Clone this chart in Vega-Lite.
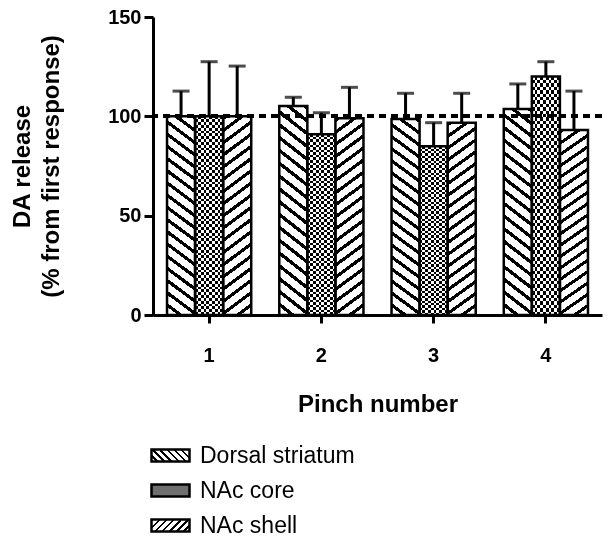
{
  "$schema": "https://vega.github.io/schema/vega-lite/v6.json",
  "width": 449,
  "height": 298,
  "autosize": {"type": "none"},
  "padding": {"left": 153, "top": 17, "right": 10, "bottom": 227},
  "background": "white",
  "config": {
    "font": "Liberation Sans",
    "view": {"stroke": null},
    "axis": {"domainColor": "#000", "domainWidth": 3, "tickColor": "#000", "tickWidth": 3, "labelColor": "#000", "titleColor": "#000", "grid": false}
  },
  "params": [
    {"name": "lgDS", "expr": "{gradient:'linear',x1:1,y1:0,x2:-0.196,y2:0.378,stops:[{offset:0,color:'#000'},{offset:0.05,color:'#000'},{offset:0.05,color:'#fff'},{offset:0.1429,color:'#fff'},{offset:0.1429,color:'#000'},{offset:0.1929,color:'#000'},{offset:0.1929,color:'#fff'},{offset:0.2857,color:'#fff'},{offset:0.2857,color:'#000'},{offset:0.3357,color:'#000'},{offset:0.3357,color:'#fff'},{offset:0.4286,color:'#fff'},{offset:0.4286,color:'#000'},{offset:0.4786,color:'#000'},{offset:0.4786,color:'#fff'},{offset:0.5714,color:'#fff'},{offset:0.5714,color:'#000'},{offset:0.6214,color:'#000'},{offset:0.6214,color:'#fff'},{offset:0.7143,color:'#fff'},{offset:0.7143,color:'#000'},{offset:0.7643,color:'#000'},{offset:0.7643,color:'#fff'},{offset:0.8571,color:'#fff'},{offset:0.8571,color:'#000'},{offset:0.9071,color:'#000'},{offset:0.9071,color:'#fff'},{offset:1,color:'#fff'}]}"},
    {"name": "lgShell", "expr": "{gradient:'linear',x1:0,y1:0,x2:1.196,y2:0.378,stops:[{offset:0,color:'#000'},{offset:0.05,color:'#000'},{offset:0.05,color:'#fff'},{offset:0.1429,color:'#fff'},{offset:0.1429,color:'#000'},{offset:0.1929,color:'#000'},{offset:0.1929,color:'#fff'},{offset:0.2857,color:'#fff'},{offset:0.2857,color:'#000'},{offset:0.3357,color:'#000'},{offset:0.3357,color:'#fff'},{offset:0.4286,color:'#fff'},{offset:0.4286,color:'#000'},{offset:0.4786,color:'#000'},{offset:0.4786,color:'#fff'},{offset:0.5714,color:'#fff'},{offset:0.5714,color:'#000'},{offset:0.6214,color:'#000'},{offset:0.6214,color:'#fff'},{offset:0.7143,color:'#fff'},{offset:0.7143,color:'#000'},{offset:0.7643,color:'#000'},{offset:0.7643,color:'#fff'},{offset:0.8571,color:'#fff'},{offset:0.8571,color:'#000'},{offset:0.9071,color:'#000'},{offset:0.9071,color:'#fff'},{offset:1,color:'#fff'}]}"},
    {"name": "lgCore", "expr": "'#6f6f6f'"}
  ],
  "data": {
    "values": [
      {"pinch": "1", "region": "Dorsal striatum", "value": 100, "upper": 112.7},
      {"pinch": "1", "region": "NAc core", "value": 100, "upper": 127.5},
      {"pinch": "1", "region": "NAc shell", "value": 100, "upper": 125.3},
      {"pinch": "2", "region": "Dorsal striatum", "value": 105.2, "upper": 109.6},
      {"pinch": "2", "region": "NAc core", "value": 91, "upper": 101.8},
      {"pinch": "2", "region": "NAc shell", "value": 99, "upper": 114.6},
      {"pinch": "3", "region": "Dorsal striatum", "value": 98.6, "upper": 111.6},
      {"pinch": "3", "region": "NAc core", "value": 85, "upper": 96.8},
      {"pinch": "3", "region": "NAc shell", "value": 96.8, "upper": 111.6},
      {"pinch": "4", "region": "Dorsal striatum", "value": 103.7, "upper": 116.3},
      {"pinch": "4", "region": "NAc core", "value": 120, "upper": 127.5},
      {"pinch": "4", "region": "NAc shell", "value": 93.1, "upper": 112.7}
    ]
  },
  "layer": [
    {
      "transform": [{"filter": "datum.region === 'Dorsal striatum'"}],
      "mark": {"type": "bar", "strokeWidth": 0,
        "fill": {"gradient": "linear", "x1": 1, "y1": 0, "x2": 0.8852, "y2": 1.093, "stops": [{"offset":0,"color":"#000"},{"offset":0.0185,"color":"#000"},{"offset":0.0185,"color":"#fff"},{"offset":0.0556,"color":"#fff"},{"offset":0.0556,"color":"#000"},{"offset":0.0741,"color":"#000"},{"offset":0.0741,"color":"#fff"},{"offset":0.1111,"color":"#fff"},{"offset":0.1111,"color":"#000"},{"offset":0.1296,"color":"#000"},{"offset":0.1296,"color":"#fff"},{"offset":0.1667,"color":"#fff"},{"offset":0.1667,"color":"#000"},{"offset":0.1852,"color":"#000"},{"offset":0.1852,"color":"#fff"},{"offset":0.2222,"color":"#fff"},{"offset":0.2222,"color":"#000"},{"offset":0.2407,"color":"#000"},{"offset":0.2407,"color":"#fff"},{"offset":0.2778,"color":"#fff"},{"offset":0.2778,"color":"#000"},{"offset":0.2963,"color":"#000"},{"offset":0.2963,"color":"#fff"},{"offset":0.3333,"color":"#fff"},{"offset":0.3333,"color":"#000"},{"offset":0.3518,"color":"#000"},{"offset":0.3518,"color":"#fff"},{"offset":0.3889,"color":"#fff"},{"offset":0.3889,"color":"#000"},{"offset":0.4074,"color":"#000"},{"offset":0.4074,"color":"#fff"},{"offset":0.4444,"color":"#fff"},{"offset":0.4444,"color":"#000"},{"offset":0.463,"color":"#000"},{"offset":0.463,"color":"#fff"},{"offset":0.5,"color":"#fff"},{"offset":0.5,"color":"#000"},{"offset":0.5185,"color":"#000"},{"offset":0.5185,"color":"#fff"},{"offset":0.5556,"color":"#fff"},{"offset":0.5556,"color":"#000"},{"offset":0.5741,"color":"#000"},{"offset":0.5741,"color":"#fff"},{"offset":0.6111,"color":"#fff"},{"offset":0.6111,"color":"#000"},{"offset":0.6296,"color":"#000"},{"offset":0.6296,"color":"#fff"},{"offset":0.6667,"color":"#fff"},{"offset":0.6667,"color":"#000"},{"offset":0.6852,"color":"#000"},{"offset":0.6852,"color":"#fff"},{"offset":0.7222,"color":"#fff"},{"offset":0.7222,"color":"#000"},{"offset":0.7407,"color":"#000"},{"offset":0.7407,"color":"#fff"},{"offset":0.7778,"color":"#fff"},{"offset":0.7778,"color":"#000"},{"offset":0.7963,"color":"#000"},{"offset":0.7963,"color":"#fff"},{"offset":0.8333,"color":"#fff"},{"offset":0.8333,"color":"#000"},{"offset":0.8518,"color":"#000"},{"offset":0.8518,"color":"#fff"},{"offset":0.8889,"color":"#fff"},{"offset":0.8889,"color":"#000"},{"offset":0.9074,"color":"#000"},{"offset":0.9074,"color":"#fff"},{"offset":0.9444,"color":"#fff"},{"offset":0.9444,"color":"#000"},{"offset":0.963,"color":"#000"},{"offset":0.963,"color":"#fff"},{"offset":1,"color":"#fff"}]}},
      "encoding": {
        "x": {"field": "pinch", "type": "nominal", "scale": {"paddingInner": 0.25, "paddingOuter": 0.125},
          "axis": {"labelAngle": 0, "tickSize": 8, "labelFontSize": 20, "labelFontWeight": "bold", "labelPadding": 22, "title": "Pinch number", "titleFontSize": 24, "titleFontWeight": "bold", "titlePadding": 27}},
        "xOffset": {"field": "region", "type": "nominal", "scale": {"paddingInner": 0, "paddingOuter": 0}},
        "y": {"field": "value", "type": "quantitative", "scale": {"domain": [0, 150], "nice": false},
          "axis": {"values": [0, 50, 100, 150], "tickSize": 9, "labelFontSize": 20, "labelFontWeight": "bold", "labelPadding": 3, "title": ["DA release", "(% from first response)"], "titleFontSize": 24, "titleFontWeight": "bold", "titleLineHeight": 29, "titlePadding": 44}}
      }
    },
    {
      "transform": [{"filter": "datum.region === 'NAc core'"}],
      "mark": {"type": "bar", "strokeWidth": 0,
        "fill": {"gradient": "linear", "x1": 0, "y1": 0, "x2": 1, "y2": 0, "stops": [{"offset":0,"color":"#000"},{"offset":0.1,"color":"#000"},{"offset":0.1,"color":"#fff"},{"offset":0.2,"color":"#fff"},{"offset":0.2,"color":"#000"},{"offset":0.3,"color":"#000"},{"offset":0.3,"color":"#fff"},{"offset":0.4,"color":"#fff"},{"offset":0.4,"color":"#000"},{"offset":0.5,"color":"#000"},{"offset":0.5,"color":"#fff"},{"offset":0.6,"color":"#fff"},{"offset":0.6,"color":"#000"},{"offset":0.7,"color":"#000"},{"offset":0.7,"color":"#fff"},{"offset":0.8,"color":"#fff"},{"offset":0.8,"color":"#000"},{"offset":0.9,"color":"#000"},{"offset":0.9,"color":"#fff"},{"offset":1,"color":"#fff"}]}},
      "encoding": {
        "x": {"field": "pinch", "type": "nominal"},
        "xOffset": {"field": "region", "type": "nominal"},
        "y": {"field": "value", "type": "quantitative"}
      }
    },
    {
      "transform": [{"filter": "datum.region === 'NAc shell'"}],
      "mark": {"type": "bar", "strokeWidth": 0,
        "fill": {"gradient": "linear", "x1": 0, "y1": 0, "x2": 0.1148, "y2": 1.093, "stops": [{"offset":0,"color":"#000"},{"offset":0.0185,"color":"#000"},{"offset":0.0185,"color":"#fff"},{"offset":0.0556,"color":"#fff"},{"offset":0.0556,"color":"#000"},{"offset":0.0741,"color":"#000"},{"offset":0.0741,"color":"#fff"},{"offset":0.1111,"color":"#fff"},{"offset":0.1111,"color":"#000"},{"offset":0.1296,"color":"#000"},{"offset":0.1296,"color":"#fff"},{"offset":0.1667,"color":"#fff"},{"offset":0.1667,"color":"#000"},{"offset":0.1852,"color":"#000"},{"offset":0.1852,"color":"#fff"},{"offset":0.2222,"color":"#fff"},{"offset":0.2222,"color":"#000"},{"offset":0.2407,"color":"#000"},{"offset":0.2407,"color":"#fff"},{"offset":0.2778,"color":"#fff"},{"offset":0.2778,"color":"#000"},{"offset":0.2963,"color":"#000"},{"offset":0.2963,"color":"#fff"},{"offset":0.3333,"color":"#fff"},{"offset":0.3333,"color":"#000"},{"offset":0.3518,"color":"#000"},{"offset":0.3518,"color":"#fff"},{"offset":0.3889,"color":"#fff"},{"offset":0.3889,"color":"#000"},{"offset":0.4074,"color":"#000"},{"offset":0.4074,"color":"#fff"},{"offset":0.4444,"color":"#fff"},{"offset":0.4444,"color":"#000"},{"offset":0.463,"color":"#000"},{"offset":0.463,"color":"#fff"},{"offset":0.5,"color":"#fff"},{"offset":0.5,"color":"#000"},{"offset":0.5185,"color":"#000"},{"offset":0.5185,"color":"#fff"},{"offset":0.5556,"color":"#fff"},{"offset":0.5556,"color":"#000"},{"offset":0.5741,"color":"#000"},{"offset":0.5741,"color":"#fff"},{"offset":0.6111,"color":"#fff"},{"offset":0.6111,"color":"#000"},{"offset":0.6296,"color":"#000"},{"offset":0.6296,"color":"#fff"},{"offset":0.6667,"color":"#fff"},{"offset":0.6667,"color":"#000"},{"offset":0.6852,"color":"#000"},{"offset":0.6852,"color":"#fff"},{"offset":0.7222,"color":"#fff"},{"offset":0.7222,"color":"#000"},{"offset":0.7407,"color":"#000"},{"offset":0.7407,"color":"#fff"},{"offset":0.7778,"color":"#fff"},{"offset":0.7778,"color":"#000"},{"offset":0.7963,"color":"#000"},{"offset":0.7963,"color":"#fff"},{"offset":0.8333,"color":"#fff"},{"offset":0.8333,"color":"#000"},{"offset":0.8518,"color":"#000"},{"offset":0.8518,"color":"#fff"},{"offset":0.8889,"color":"#fff"},{"offset":0.8889,"color":"#000"},{"offset":0.9074,"color":"#000"},{"offset":0.9074,"color":"#fff"},{"offset":0.9444,"color":"#fff"},{"offset":0.9444,"color":"#000"},{"offset":0.963,"color":"#000"},{"offset":0.963,"color":"#fff"},{"offset":1,"color":"#fff"}]}},
      "encoding": {
        "x": {"field": "pinch", "type": "nominal"},
        "xOffset": {"field": "region", "type": "nominal"},
        "y": {"field": "value", "type": "quantitative"}
      }
    },
    {
      "transform": [{"filter": "datum.region === 'NAc core'"}],
      "mark": {"type": "bar", "strokeWidth": 0, "blend": "difference",
        "fill": {"gradient": "linear", "x1": 0, "y1": 0, "x2": 0, "y2": 1, "stops": [{"offset":0,"color":"#fff"},{"offset":0.0143,"color":"#fff"},{"offset":0.0143,"color":"#000"},{"offset":0.0286,"color":"#000"},{"offset":0.0286,"color":"#fff"},{"offset":0.0429,"color":"#fff"},{"offset":0.0429,"color":"#000"},{"offset":0.0571,"color":"#000"},{"offset":0.0571,"color":"#fff"},{"offset":0.0714,"color":"#fff"},{"offset":0.0714,"color":"#000"},{"offset":0.0857,"color":"#000"},{"offset":0.0857,"color":"#fff"},{"offset":0.1,"color":"#fff"},{"offset":0.1,"color":"#000"},{"offset":0.1143,"color":"#000"},{"offset":0.1143,"color":"#fff"},{"offset":0.1286,"color":"#fff"},{"offset":0.1286,"color":"#000"},{"offset":0.1429,"color":"#000"},{"offset":0.1429,"color":"#fff"},{"offset":0.1571,"color":"#fff"},{"offset":0.1571,"color":"#000"},{"offset":0.1714,"color":"#000"},{"offset":0.1714,"color":"#fff"},{"offset":0.1857,"color":"#fff"},{"offset":0.1857,"color":"#000"},{"offset":0.2,"color":"#000"},{"offset":0.2,"color":"#fff"},{"offset":0.2143,"color":"#fff"},{"offset":0.2143,"color":"#000"},{"offset":0.2286,"color":"#000"},{"offset":0.2286,"color":"#fff"},{"offset":0.2429,"color":"#fff"},{"offset":0.2429,"color":"#000"},{"offset":0.2571,"color":"#000"},{"offset":0.2571,"color":"#fff"},{"offset":0.2714,"color":"#fff"},{"offset":0.2714,"color":"#000"},{"offset":0.2857,"color":"#000"},{"offset":0.2857,"color":"#fff"},{"offset":0.3,"color":"#fff"},{"offset":0.3,"color":"#000"},{"offset":0.3143,"color":"#000"},{"offset":0.3143,"color":"#fff"},{"offset":0.3286,"color":"#fff"},{"offset":0.3286,"color":"#000"},{"offset":0.3429,"color":"#000"},{"offset":0.3429,"color":"#fff"},{"offset":0.3571,"color":"#fff"},{"offset":0.3571,"color":"#000"},{"offset":0.3714,"color":"#000"},{"offset":0.3714,"color":"#fff"},{"offset":0.3857,"color":"#fff"},{"offset":0.3857,"color":"#000"},{"offset":0.4,"color":"#000"},{"offset":0.4,"color":"#fff"},{"offset":0.4143,"color":"#fff"},{"offset":0.4143,"color":"#000"},{"offset":0.4286,"color":"#000"},{"offset":0.4286,"color":"#fff"},{"offset":0.4429,"color":"#fff"},{"offset":0.4429,"color":"#000"},{"offset":0.4571,"color":"#000"},{"offset":0.4571,"color":"#fff"},{"offset":0.4714,"color":"#fff"},{"offset":0.4714,"color":"#000"},{"offset":0.4857,"color":"#000"},{"offset":0.4857,"color":"#fff"},{"offset":0.5,"color":"#fff"},{"offset":0.5,"color":"#000"},{"offset":0.5143,"color":"#000"},{"offset":0.5143,"color":"#fff"},{"offset":0.5286,"color":"#fff"},{"offset":0.5286,"color":"#000"},{"offset":0.5429,"color":"#000"},{"offset":0.5429,"color":"#fff"},{"offset":0.5571,"color":"#fff"},{"offset":0.5571,"color":"#000"},{"offset":0.5714,"color":"#000"},{"offset":0.5714,"color":"#fff"},{"offset":0.5857,"color":"#fff"},{"offset":0.5857,"color":"#000"},{"offset":0.6,"color":"#000"},{"offset":0.6,"color":"#fff"},{"offset":0.6143,"color":"#fff"},{"offset":0.6143,"color":"#000"},{"offset":0.6286,"color":"#000"},{"offset":0.6286,"color":"#fff"},{"offset":0.6429,"color":"#fff"},{"offset":0.6429,"color":"#000"},{"offset":0.6571,"color":"#000"},{"offset":0.6571,"color":"#fff"},{"offset":0.6714,"color":"#fff"},{"offset":0.6714,"color":"#000"},{"offset":0.6857,"color":"#000"},{"offset":0.6857,"color":"#fff"},{"offset":0.7,"color":"#fff"},{"offset":0.7,"color":"#000"},{"offset":0.7143,"color":"#000"},{"offset":0.7143,"color":"#fff"},{"offset":0.7286,"color":"#fff"},{"offset":0.7286,"color":"#000"},{"offset":0.7429,"color":"#000"},{"offset":0.7429,"color":"#fff"},{"offset":0.7571,"color":"#fff"},{"offset":0.7571,"color":"#000"},{"offset":0.7714,"color":"#000"},{"offset":0.7714,"color":"#fff"},{"offset":0.7857,"color":"#fff"},{"offset":0.7857,"color":"#000"},{"offset":0.8,"color":"#000"},{"offset":0.8,"color":"#fff"},{"offset":0.8143,"color":"#fff"},{"offset":0.8143,"color":"#000"},{"offset":0.8286,"color":"#000"},{"offset":0.8286,"color":"#fff"},{"offset":0.8429,"color":"#fff"},{"offset":0.8429,"color":"#000"},{"offset":0.8571,"color":"#000"},{"offset":0.8571,"color":"#fff"},{"offset":0.8714,"color":"#fff"},{"offset":0.8714,"color":"#000"},{"offset":0.8857,"color":"#000"},{"offset":0.8857,"color":"#fff"},{"offset":0.9,"color":"#fff"},{"offset":0.9,"color":"#000"},{"offset":0.9143,"color":"#000"},{"offset":0.9143,"color":"#fff"},{"offset":0.9286,"color":"#fff"},{"offset":0.9286,"color":"#000"},{"offset":0.9429,"color":"#000"},{"offset":0.9429,"color":"#fff"},{"offset":0.9571,"color":"#fff"},{"offset":0.9571,"color":"#000"},{"offset":0.9714,"color":"#000"},{"offset":0.9714,"color":"#fff"},{"offset":0.9857,"color":"#fff"},{"offset":0.9857,"color":"#000"},{"offset":1,"color":"#000"}]}},
      "encoding": {
        "x": {"field": "pinch", "type": "nominal"},
        "xOffset": {"field": "region", "type": "nominal"},
        "y": {"field": "value", "type": "quantitative"}
      }
    },
    {
      "mark": {"type": "bar", "fillOpacity": 0, "stroke": "#000", "strokeWidth": 2.5},
      "encoding": {
        "x": {"field": "pinch", "type": "nominal"},
        "xOffset": {"field": "region", "type": "nominal"},
        "y": {"field": "value", "type": "quantitative"},
        "fill": {"field": "region", "type": "nominal", "scale": {"range": [{"expr": "lgDS"}, {"expr": "lgCore"}, {"expr": "lgShell"}]},
          "legend": {"orient": "none", "legendX": -3, "legendY": 418, "title": null, "symbolType": "M-1,-0.32H1V0.32H-1Z", "symbolSize": 1444, "symbolStrokeColor": "#000", "symbolStrokeWidth": 2.5, "symbolOpacity": 1, "symbolFillOpacity": 1, "labelFont": "Liberation Sans", "labelFontSize": 23, "labelColor": "#000", "labelOffset": 9, "rowPadding": 2}
        }
      }
    },
    {
      "mark": {"type": "rule", "color": "#000", "strokeWidth": 3},
      "encoding": {
        "x": {"field": "pinch", "type": "nominal"},
        "xOffset": {"field": "region", "type": "nominal"},
        "y": {"field": "value", "type": "quantitative"},
        "y2": {"field": "upper"}
      }
    },
    {
      "mark": {"type": "tick", "color": "#000", "size": 17, "thickness": 3},
      "encoding": {
        "x": {"field": "pinch", "type": "nominal"},
        "xOffset": {"field": "region", "type": "nominal"},
        "y": {"field": "upper", "type": "quantitative"}
      }
    },
    {
      "mark": {"type": "rule", "color": "#000", "strokeWidth": 3.5, "strokeDash": [7, 5]},
      "encoding": {"y": {"datum": 100}}
    }
  ]
}
